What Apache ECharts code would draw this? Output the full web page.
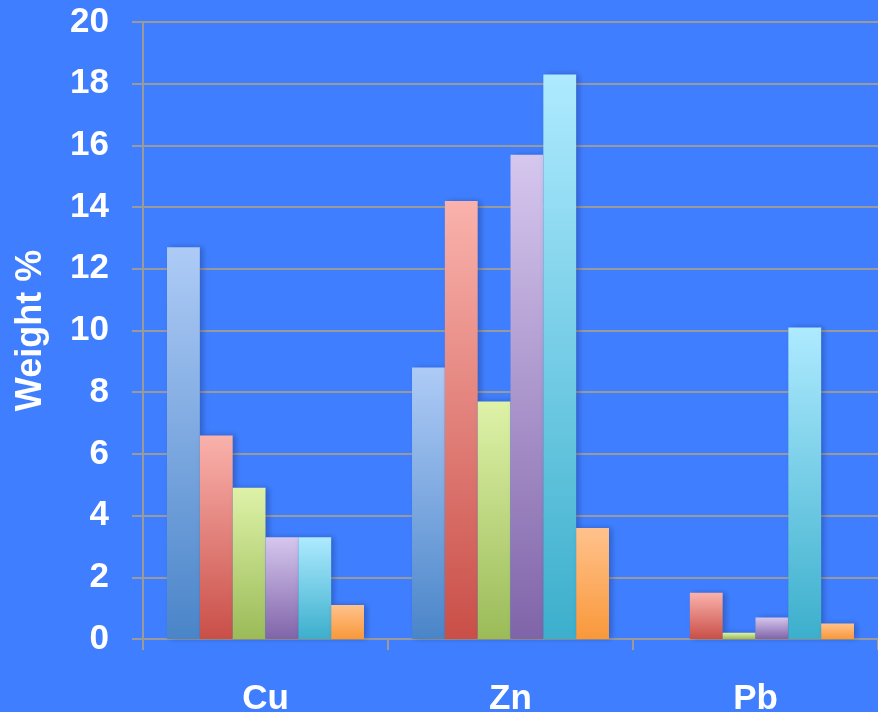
<!DOCTYPE html>
<html>
<head>
<meta charset="utf-8">
<script src="https://cdn.jsdelivr.net/npm/echarts@6/dist/echarts.min.js"></script>
<style>
  html, body { margin: 0; padding: 0; background: #3f7fff; }
  #chart { width: 878px; height: 712px; }
</style>
</head>
<body>
<div id="chart"></div>
<script>
// Metal content by sample, weight percent
const categories = ['Cu', 'Zn', 'Pb'];
const series1 = [12.7, 8.8, 0];
const series2 = [6.6, 14.2, 1.5];
const series3 = [4.9, 7.7, 0.2];
const series4 = [3.3, 15.7, 0.7];
const series5 = [3.3, 18.3, 10.1];
const series6 = [1.1, 3.6, 0.5];
const yTicks = { min: 0, max: 20, interval: 2 };

// top and bottom colours of each bar gradient
const palette = [
  ['#aecbf6', '#4a85c9'],
  ['#fab2ac', '#c94f48'],
  ['#def2a8', '#9bbb58'],
  ['#d6c7ee', '#8064a9'],
  ['#aeeaff', '#3cafcc'],
  ['#ffc28c', '#f9983a']
];

const allSeries = [series1, series2, series3, series4, series5, series6];

const font = 'Liberation Sans, Arial, sans-serif';

const chart = echarts.init(document.getElementById('chart'), null, { renderer: 'canvas' });

chart.setOption({
  backgroundColor: '#3f7fff',
  animation: false,
  grid: {
    left: 143, top: 22, right: 0, bottom: 73,
    containLabel: false, outerBoundsMode: 'none'
  },
  xAxis: {
    type: 'category',
    data: categories,
    axisLine: { show: true, lineStyle: { color: '#9a9a9a', width: 2 } },
    axisTick: { show: true, alignWithLabel: false, length: 11, lineStyle: { color: '#9a9a9a', width: 2 } },
    axisLabel: {
      color: '#ffffff', fontFamily: font,
      fontWeight: 'bold', fontSize: 35, margin: 43
    },
    splitLine: { show: false }
  },
  yAxis: {
    type: 'value',
    min: yTicks.min, max: yTicks.max, interval: yTicks.interval,
    name: 'Weight %',
    nameLocation: 'middle',
    nameRotate: 90,
    nameGap: 94,
    nameTextStyle: {
      color: '#ffffff', fontFamily: font,
      fontWeight: 'bold', fontSize: 36
    },
    axisLine: { show: true, lineStyle: { color: '#9a9a9a', width: 2 } },
    axisTick: { show: true, length: 11, lineStyle: { color: '#9a9a9a', width: 2 } },
    axisLabel: {
      color: '#ffffff', fontFamily: font,
      fontWeight: 'bold', fontSize: 35, margin: 34
    },
    splitLine: { show: true, lineStyle: { color: '#9a9a9a', width: 2 } }
  },
  series: allSeries.map((values, i) => ({
    type: 'bar',
    data: values,
    barGap: '0%',
    barCategoryGap: '19.6%',
    itemStyle: {
      color: new echarts.graphic.LinearGradient(0, 0, 0, 1, [
        { offset: 0, color: palette[i][0] },
        { offset: 1, color: palette[i][1] }
      ]),
      shadowColor: 'rgba(0, 0, 40, 0.25)',
      shadowBlur: 6,
      shadowOffsetX: 3,
      shadowOffsetY: 0
    }
  }))
});
</script>
</body>
</html>
